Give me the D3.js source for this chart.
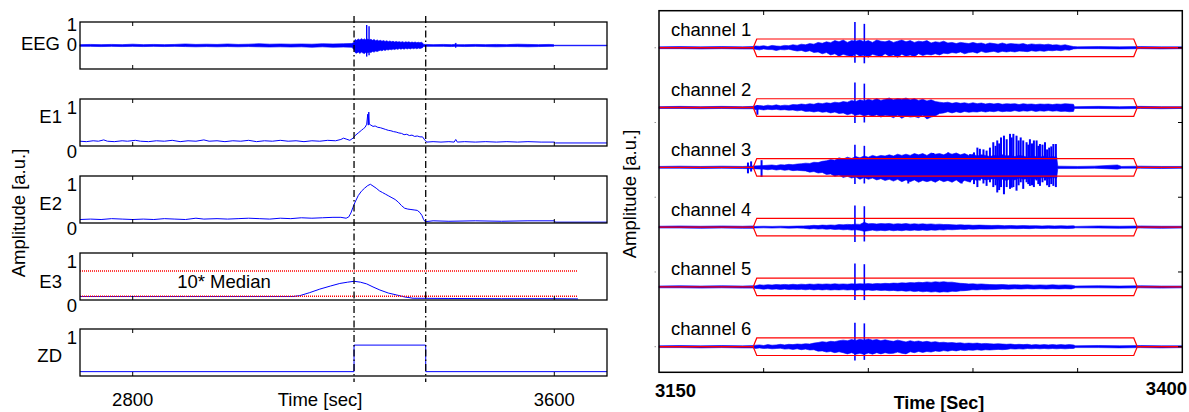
<!DOCTYPE html>
<html lang="en">
<head>
<meta charset="UTF-8">
<title>EEG energy features and seizure channels</title>
<style>
    body { margin: 0; background: #fff; overflow: hidden; }
    svg { display: block; }
    text { font-family: "Liberation Sans", Arial, sans-serif; fill: #000; }
</style>
</head>
<body>
<svg id="chart" width="1189" height="412"></svg>

<script src="https://d3js.org/d3.v7.min.js"></script>
<script>
// ---------- left figure data ----------
const leftTicks = [2800, 3600];
const events = [3220, 3356];            // dash-dot onset / offset
const panelNames = ["EEG", "E1", "E2", "E3", "ZD"];

// EEG envelope: [time, upper, lower]
const eegEnv = [
    [2700,.04,.04],[2720,.05,.04],[2740,.04,.05],[2760,.05,.04],[2780,.04,.05],[2800,.06,.04],
    [2820,.04,.05],[2840,.05,.04],[2860,.04,.05],[2880,.05,.04],[2900,.07,.05],[2920,.05,.06],
    [2940,.06,.05],[2960,.05,.06],[2980,.07,.05],[3000,.05,.06],[3020,.06,.05],[3040,.08,.06],
    [3060,.06,.07],[3080,.07,.06],[3100,.06,.07],[3120,.07,.06],[3140,.06,.08],[3160,.08,.06],
    [3180,.07,.08],[3200,.08,.07],[3216,.09,.08],
    [3220,.15,.2],[3222,.28,.33],[3225,.24,.36],[3228,.3,.3],[3231,.26,.37],[3234,.32,.31],
    [3237,.27,.35],[3240,.31,.38],[3243,.25,.3],[3246,.3,.34],[3249,.26,.3],[3252,.29,.33],
    [3255,.24,.28],[3258,.28,.31],[3261,.22,.26],[3264,.26,.28],[3267,.21,.25],[3270,.24,.22],
    [3273,.2,.25],[3276,.23,.2],[3279,.19,.23],[3282,.22,.19],[3285,.18,.21],[3288,.21,.17],
    [3291,.17,.2],[3294,.2,.16],[3297,.16,.19],[3300,.19,.15],[3303,.16,.18],[3306,.18,.14],
    [3309,.15,.17],[3312,.18,.14],[3315,.14,.17],[3318,.17,.13],[3321,.15,.16],[3324,.17,.13],
    [3327,.14,.16],[3330,.16,.12],[3333,.14,.15],[3336,.16,.12],[3339,.13,.15],[3342,.15,.12],
    [3345,.13,.14],[3348,.15,.12],[3350,.12,.1],[3352,.05,.05],
    [3356,.05,.04],[3370,.04,.04],[3390,.05,.04],[3405,.04,.05],[3411,.05,.04],[3413,.12,.1],
    [3415,.04,.04],[3430,.04,.05],[3450,.05,.04],[3470,.04,.05],[3490,.05,.06],[3510,.04,.05],
    [3530,.06,.05],[3550,.05,.06],[3570,.04,.05],[3590,.05,.04],[3599,.04,.04],[3600,.012,.012],
    [3700,.012,.012]
];
const eegSpikes = [[3244, .96, .52], [3248.5, .9, .46]];

const e1Line = [
    [2700,.23],[2712,.22],[2725,.24],[2735,.23],[2745,.26],[2752,.23],[2765,.22],[2780,.24],
    [2790,.23],[2805,.25],[2815,.23],[2830,.22],[2845,.24],[2860,.23],[2875,.25],[2890,.22],
    [2905,.24],[2920,.23],[2935,.26],[2945,.23],[2960,.24],[2975,.22],[2990,.24],[3005,.23],
    [3020,.25],[3035,.22],[3050,.24],[3065,.23],[3080,.25],[3095,.23],[3110,.24],[3125,.22],
    [3140,.24],[3155,.23],[3170,.25],[3185,.24],[3195,.27],[3200,.3],[3205,.28],[3212,.25],
    [3218,.3],[3222,.36],[3228,.42],[3234,.48],[3238,.52],[3241,.55],[3244,.62],[3246,.85],
    [3247,.6],[3248,.9],[3249,.62],[3252,.6],[3256,.57],[3260,.58],[3265,.55],[3270,.54],
    [3275,.52],[3280,.5],[3285,.48],[3290,.47],[3295,.45],[3300,.44],[3305,.42],[3310,.41],
    [3315,.38],[3320,.39],[3325,.36],[3330,.37],[3335,.34],[3340,.35],[3345,.33],[3350,.33],
    [3354,.26],[3358,.21],[3370,.22],[3385,.21],[3400,.22],[3410,.21],[3413,.27],[3416,.21],
    [3430,.22],[3450,.21],[3470,.22],[3490,.21],[3510,.22],[3530,.21],[3550,.22],[3575,.21],
    [3600,.21],[3602,.19],[3700,.19]
];

const e2Line = [
    [2700,.2],[2720,.21],[2740,.2],[2760,.22],[2780,.21],[2800,.2],[2820,.21],[2840,.2],
    [2860,.22],[2880,.21],[2900,.2],[2920,.23],[2935,.21],[2960,.22],[2980,.21],[3000,.22],
    [3020,.23],[3040,.22],[3060,.21],[3080,.23],[3100,.22],[3120,.24],[3140,.23],[3160,.24],
    [3180,.25],[3195,.25],[3205,.23],[3210,.26],[3214,.35],[3218,.48],[3222,.6],[3228,.75],
    [3234,.85],[3240,.92],[3246,.98],[3251,1.01],[3256,.97],[3262,.92],[3268,.86],[3274,.82],
    [3280,.78],[3286,.74],[3292,.7],[3298,.66],[3304,.6],[3310,.52],[3316,.46],[3322,.44],
    [3328,.43],[3334,.42],[3340,.41],[3345,.36],[3349,.29],[3352,.2],[3355,.15],[3370,.17],
    [3400,.16],[3450,.17],[3500,.16],[3550,.17],[3600,.17],[3602,.14],[3700,.14]
];

const e3Line = [
    [2700,.2],[2800,.2],[2900,.2],[3000,.2],[3080,.2],[3104,.2],[3117,.22],[3136,.29],
    [3155,.37],[3175,.44],[3193,.5],[3208,.53],[3220,.55],[3232,.53],[3244,.49],[3256,.42],
    [3269,.35],[3285,.28],[3301,.235],[3316,.19],[3332,.16],[3400,.155],[3500,.15],[3600,.15],
    [3645,.145]
];
const e3Threshold = 0.786;   // 10* Median
const e3Median = 0.205;
const e3Span = [2700, 3645];

const zdLine = [[2700,.22],[3220,.22],[3220,.83],[3356,.83],[3356,.22],[3700,.22]];

// ---------- right figure data ----------
const rightTicks = [3200, 3250, 3300, 3350];
const rightTickLabels = ["3150", "3400"];
const rightYTicks = [0, 1.25, 2.5, 3.75, 5];
const channelNames = ["channel 1", "channel 2", "channel 3", "channel 4", "channel 5", "channel 6"];
const channelOffsets = [5, 4, 3, 2, 1, 0];
const seizureWindow = [3195, 3378.5];
const spikeTimes = [3243.6, 3248.1];
const spikeUp = [[.43,.40],[.42,.40],[.38,.36],[.36,.35],[.39,.38],[.40,.39]];
const spikeDown = [[.25,.26],[.26,.25],[.28,.27],[.25,.24],[.22,.22],[.23,.22]];

const quietPre = [[3150,.015,.015],[3160,.02,.015],[3170,.015,.02],[3180,.02,.015],[3190,.015,.02],[3195,.02,.02]];
const quietPost = [[3360,.02,.015],[3370,.015,.02],[3380,.02,.015],[3390,.015,.02],[3400,.015,.015]];

const ch1Burst = [
    [3196,.03,.025],[3198,.025,.035],[3200,.035,.02],[3202,.02,.03],[3204,.04,.03],[3206,.03,.045],
    [3208,.025,.03],[3210,.04,.035],[3212,.035,.025],[3214,.05,.04],[3216,.04,.055],[3218,.06,.045],
    [3220,.05,.065],[3222,.07,.05],[3224,.06,.08],[3226,.09,.07],[3228,.075,.1],[3230,.1,.08],
    [3232,.085,.12],[3234,.12,.1],[3236,.1,.14],[3238,.13,.11],[3240,.09,.13],[3242,.12,.15],
    [3244,.11,.1],[3246,.13,.14],[3248,.1,.12],[3250,.12,.16],[3252,.09,.11],[3254,.13,.13],
    [3256,.11,.15],[3258,.1,.1],[3260,.12,.14],[3262,.09,.12],[3264,.11,.16],[3266,.13,.11],
    [3268,.1,.14],[3270,.12,.12],[3272,.09,.15],[3274,.11,.1],[3276,.1,.13],[3278,.12,.11],
    [3280,.08,.12],[3282,.1,.1],[3284,.09,.12],[3286,.11,.09],[3288,.08,.1],[3290,.09,.08],
    [3292,.07,.09],[3294,.09,.07],[3296,.08,.1],[3298,.07,.08],[3300,.09,.07],[3302,.07,.09],
    [3304,.08,.06],[3306,.06,.08],[3308,.08,.07],[3310,.07,.06],[3312,.06,.08],[3314,.08,.06],
    [3316,.06,.07],[3318,.07,.06],[3320,.065,.07],[3322,.06,.055],[3324,.07,.06],[3326,.05,.065],
    [3328,.065,.05],[3330,.055,.06],[3332,.06,.05],[3334,.05,.06],[3336,.06,.045],[3338,.045,.05],
    [3340,.05,.04],[3342,.04,.05],[3344,.05,.035],[3346,.035,.04],[3348,.02,.02],[3350,.015,.015]
];
const ch2Burst = [
    [3196,.03,.035],[3198,.035,.03],[3200,.025,.04],[3202,.04,.03],[3204,.03,.035],[3206,.045,.03],
    [3208,.03,.04],[3210,.04,.035],[3212,.035,.045],[3214,.05,.04],[3216,.045,.055],[3218,.06,.045],
    [3220,.05,.065],[3222,.065,.06],[3224,.055,.075],[3226,.075,.06],[3228,.065,.08],[3230,.08,.07],
    [3232,.07,.09],[3234,.09,.075],[3236,.08,.1],[3238,.1,.09],[3240,.09,.12],[3242,.12,.1],
    [3244,.1,.13],[3246,.13,.11],[3248,.11,.14],[3250,.14,.12],[3252,.12,.15],[3254,.15,.12],
    [3256,.12,.16],[3258,.14,.13],[3260,.16,.14],[3262,.13,.17],[3264,.15,.13],[3266,.14,.18],
    [3268,.16,.14],[3270,.13,.16],[3272,.15,.15],[3274,.12,.17],[3276,.14,.13],[3278,.11,.19],
    [3280,.13,.16],[3282,.1,.14],[3284,.09,.1],[3286,.08,.09],[3288,.09,.07],[3290,.07,.09],
    [3292,.085,.07],[3294,.07,.085],[3296,.08,.065],[3298,.065,.08],[3300,.08,.07],[3302,.065,.075],
    [3304,.075,.06],[3306,.06,.075],[3308,.07,.06],[3310,.06,.07],[3312,.07,.055],[3314,.055,.07],
    [3316,.065,.06],[3318,.06,.065],[3320,.065,.05],[3322,.05,.065],[3324,.065,.055],[3326,.055,.06],
    [3328,.06,.05],[3330,.05,.065],[3332,.06,.055],[3334,.055,.06],[3336,.06,.05],[3338,.05,.06],
    [3340,.06,.055],[3342,.055,.065],[3344,.065,.06],[3346,.06,.07],[3348,.055,.065],[3348.5,.015,.015]
];
const ch3Burst = [
    [3200,.03,.03],[3202,.035,.04],[3204,.04,.03],[3206,.03,.045],[3208,.045,.035],[3210,.04,.05],
    [3212,.05,.04],[3214,.045,.055],[3216,.055,.05],[3218,.06,.055],[3220,.07,.06],[3222,.065,.08],
    [3224,.085,.07],[3226,.08,.095],[3228,.1,.085],[3230,.11,.12],[3232,.13,.11],[3234,.12,.15],
    [3236,.16,.13],[3238,.14,.17],[3240,.17,.15],[3242,.15,.18],[3244,.18,.16],[3246,.16,.2],
    [3248,.19,.17],[3250,.17,.2],[3252,.2,.18],[3254,.18,.21],[3256,.2,.19],[3258,.19,.22],
    [3260,.21,.2],[3262,.19,.23],[3264,.22,.2],[3266,.2,.24],[3268,.22,.21],[3270,.2,.24],
    [3272,.23,.21],[3274,.21,.25],[3276,.23,.22],[3278,.2,.24],[3280,.24,.22],[3282,.22,.25],
    [3284,.23,.21],[3286,.21,.24],[3288,.24,.22],[3290,.22,.25],[3292,.24,.21],[3294,.21,.26],
    [3296,.23,.22],[3298,.2,.24],[3300,.22,.2],[3302,.19,.22],[3304,.21,.19],[3306,.2,.21],
    [3308,.18,.2],[3310,.2,.19],[3312,.19,.21],[3314,.21,.2],[3316,.19,.22],[3318,.2,.19],
    [3320,.18,.21],[3322,.2,.18],[3324,.19,.2],[3326,.17,.19],[3328,.19,.18],[3330,.18,.2],
    [3332,.17,.18],[3334,.19,.17],[3336,.17,.19],[3338,.18,.17],[3340,.17,.18],[3340.5,.02,.02],
    [3350,.015,.02],[3358,.02,.015],[3369,.04,.03],[3371,.015,.015]
];
const ch3Strokes = [
    [3192.5,.08,.1],[3194,.1,.07],[3199,.12,.16],
    [3269.1,.18,.27],[3281,.24,.2],[3288.2,.25,.22],[3294.6,.2,.27],
    [3298.6,.22,.25],[3300.5,.25,.28],[3302.1,.33,.33],[3303.3,.31,.22],[3305,.3,.27],
    [3306.5,.28,.31],[3308.1,.33,.25],[3309.7,.42,.33],[3310.8,.36,.3],[3311.6,.45,.42],
    [3312.5,.4,.38],[3313.4,.5,.33],[3314.8,.53,.45],[3316.1,.47,.33],[3317.7,.56,.36],
    [3318.5,.5,.34],[3319.3,.56,.33],[3320.8,.53,.39],[3321.8,.45,.3],[3322.8,.5,.25],
    [3324,.45,.36],[3325.6,.42,.25],[3326.4,.38,.28],[3327.2,.47,.31],[3328.2,.4,.3],
    [3329.1,.45,.33],[3330.4,.45,.22],[3331.2,.36,.28],[3332,.39,.31],[3333.2,.38,.25],
    [3334.4,.42,.22],[3335.4,.3,.3],[3336.4,.33,.33],[3337.4,.35,.28],[3338.4,.39,.31],
    [3339.6,.39,.33]
];
const ch2Strokes = [[3197, .04, .12]];
const ch4Burst = [
    [3196,.012,.015],[3200,.015,.012],[3204,.012,.016],[3208,.016,.012],[3212,.013,.017],[3216,.018,.014],
    [3219,.02,.018],[3222,.025,.03],[3224,.03,.024],[3226,.026,.032],[3228,.034,.028],[3230,.03,.036],
    [3232,.036,.03],[3234,.032,.04],[3236,.042,.035],[3238,.038,.045],[3240,.046,.04],[3242,.042,.05],
    [3244,.05,.044],[3246,.046,.052],[3248,.08,.07],[3250,.055,.06],[3252,.06,.05],[3254,.052,.062],
    [3256,.06,.054],[3258,.055,.06],[3260,.062,.05],[3262,.05,.06],[3264,.058,.052],[3266,.052,.06],
    [3268,.06,.05],[3270,.05,.058],[3272,.056,.05],[3274,.05,.056],[3276,.055,.048],[3278,.048,.055],
    [3280,.054,.046],[3282,.046,.052],[3284,.05,.044],[3286,.044,.05],[3288,.045,.04],[3290,.04,.044],
    [3292,.036,.04],[3294,.04,.034],[3296,.034,.038],[3298,.036,.032],[3300,.03,.035],[3303,.034,.03],
    [3306,.03,.033],[3309,.028,.031],[3312,.03,.026],[3315,.025,.029],[3318,.028,.024],[3321,.022,.026],
    [3324,.026,.022],[3327,.022,.025],[3330,.024,.02],[3333,.02,.024],[3336,.024,.02],[3339,.02,.023],
    [3342,.023,.02],[3345,.02,.024],[3348,.022,.02],[3349,.012,.012]
];
const ch5Burst = [
    [3196,.02,.025],[3198,.035,.03],[3200,.03,.038],[3202,.038,.03],[3204,.032,.04],[3206,.04,.034],
    [3208,.035,.042],[3210,.042,.036],[3212,.036,.044],[3214,.044,.038],[3216,.038,.045],[3218,.046,.04],
    [3220,.04,.048],[3222,.048,.04],[3224,.042,.05],[3226,.05,.042],[3228,.044,.05],[3230,.05,.044],
    [3232,.045,.052],[3234,.052,.046],[3236,.046,.05],[3238,.05,.045],[3240,.045,.052],[3242,.052,.046],
    [3244,.048,.054],[3246,.054,.048],[3248,.05,.056],[3250,.056,.05],[3252,.05,.058],[3254,.058,.052],
    [3256,.054,.06],[3258,.06,.055],[3260,.056,.064],[3262,.064,.058],[3264,.06,.068],[3266,.068,.062],
    [3268,.064,.072],[3270,.072,.066],[3272,.068,.078],[3274,.078,.07],[3276,.072,.082],[3278,.084,.074],
    [3280,.076,.086],[3282,.086,.078],[3284,.08,.088],[3286,.088,.08],[3288,.078,.086],[3290,.08,.072],
    [3292,.068,.076],[3294,.06,.066],[3296,.056,.062],[3298,.05,.056],[3300,.052,.046],[3302,.046,.05],
    [3304,.05,.044],[3306,.044,.048],[3308,.04,.045],[3311,.038,.042],[3314,.04,.035],[3317,.034,.038],
    [3320,.036,.032],[3323,.032,.036],[3326,.035,.03],[3329,.03,.034],[3332,.034,.03],[3335,.03,.035],
    [3338,.035,.03],[3341,.03,.034],[3344,.034,.03],[3347,.03,.033],[3349,.015,.015]
];
const ch6Burst = [
    [3196,.025,.03],[3198,.03,.02],[3200,.02,.03],[3202,.035,.025],[3204,.025,.035],[3206,.03,.03],
    [3208,.04,.025],[3210,.03,.04],[3212,.04,.035],[3214,.035,.045],[3216,.045,.035],[3218,.04,.05],
    [3220,.05,.04],[3222,.045,.055],[3224,.06,.05],[3226,.07,.075],[3228,.085,.07],[3230,.075,.09],
    [3232,.09,.08],[3234,.085,.1],[3236,.1,.085],[3238,.11,.1],[3240,.1,.12],[3242,.12,.1],
    [3244,.105,.125],[3246,.125,.11],[3248,.11,.13],[3250,.13,.105],[3252,.11,.125],[3254,.12,.1],
    [3256,.1,.12],[3258,.115,.1],[3260,.1,.115],[3262,.09,.11],[3264,.11,.09],[3266,.095,.11],
    [3268,.08,.12],[3270,.1,.085],[3272,.085,.1],[3274,.095,.08],[3276,.08,.095],[3278,.09,.08],
    [3280,.075,.09],[3282,.085,.07],[3284,.07,.08],[3286,.075,.065],[3288,.065,.075],[3290,.07,.06],
    [3292,.06,.07],[3294,.065,.055],[3296,.055,.065],[3298,.06,.055],[3300,.055,.06],[3302,.06,.05],
    [3304,.05,.06],[3306,.055,.05],[3308,.05,.055],[3310,.045,.05],[3312,.05,.045],[3314,.045,.05],
    [3316,.04,.045],[3318,.045,.035],[3320,.035,.04],[3322,.04,.035],[3324,.035,.04],[3326,.04,.03],
    [3328,.03,.035],[3330,.035,.03],[3332,.03,.035],[3334,.035,.03],[3336,.03,.035],[3338,.035,.03],
    [3340,.03,.035],[3342,.035,.03],[3344,.03,.035],[3346,.035,.03],[3348,.03,.03],[3349,.015,.015]
];
const channelEnvs = [
    quietPre.concat(ch1Burst, quietPost),
    quietPre.concat(ch2Burst, quietPost),
    quietPre.slice(0, 5).concat(ch3Burst, quietPost.slice(2)),
    quietPre.concat(ch4Burst, quietPost),
    quietPre.concat(ch5Burst, quietPost),
    quietPre.concat(ch6Burst, quietPost)
];
const channelStrokes = [[], ch2Strokes, ch3Strokes, [], [], []];

// ---------- drawing ----------
const svg = d3.select("#chart");
const BLUE = "#0000ff", RED = "#ff0000";
const FS = 18.5;

// ===== left figure =====
const x = d3.scaleLinear().domain([2700, 3700]).range([80, 607]);
const panelTops = [22, 99, 176, 253, 329];
const panelH = 47;
const nameBaselines = [50, 123, 210, 288, 362];

const ys = panelTops.map((top, i) => d3.scaleLinear()
    .domain(i === 0 ? [-1.1, 1.1] : [0.12, 1.2])
    .range([top + panelH, top]));

const line = y => d3.line().x(d => x(d[0])).y(d => y(d[1]));
const band = (xs, y, base) => d3.area()
    .x(d => xs(d[0]))
    .y0(d => y(base - d[2]))
    .y1(d => y(base + d[1]));

panelTops.forEach((top, i) => {
    const g = svg.append("g");
    const y = ys[i];

    if (i === 0) {
        g.append("path").datum(eegEnv)
            .attr("d", band(x, y, 0))
            .attr("fill", BLUE).attr("stroke", BLUE).attr("stroke-width", 0.7);
        g.selectAll(".sp").data(eegSpikes).join("line")
            .attr("x1", d => x(d[0])).attr("x2", d => x(d[0]))
            .attr("y1", d => y(d[1])).attr("y2", d => y(-d[2]))
            .attr("stroke", BLUE).attr("stroke-width", 1.4);
    }
    if (i === 1) g.append("path").attr("d", line(y)(e1Line))
        .attr("fill", "none").attr("stroke", BLUE).attr("stroke-width", 1);
    if (i === 2) g.append("path").attr("d", line(y)(e2Line))
        .attr("fill", "none").attr("stroke", BLUE).attr("stroke-width", 1);
    if (i === 3) {
        g.append("path").attr("d", line(y)(e3Line))
            .attr("fill", "none").attr("stroke", BLUE).attr("stroke-width", 1);
        [e3Threshold, e3Median].forEach(v => {
            g.append("line")
                .attr("x1", x(e3Span[0])).attr("x2", x(e3Span[1]))
                .attr("y1", y(v)).attr("y2", y(v))
                .attr("stroke", RED).attr("stroke-width", 1.4)
                .attr("stroke-dasharray", "1,1");
        });
        g.append("text")
            .attr("x", 224).attr("y", y(e3Threshold) + 17)
            .attr("text-anchor", "middle").attr("font-size", FS)
            .text("10* Median");
    }
    if (i === 4) g.append("path").attr("d", line(y)(zdLine))
        .attr("fill", "none").attr("stroke", BLUE).attr("stroke-width", 1);

    // box
    g.append("rect")
        .attr("x", 80).attr("y", top).attr("width", 527).attr("height", panelH)
        .attr("fill", "none").attr("stroke", "#000").attr("stroke-width", 1.3);

    // inward x ticks top and bottom
    leftTicks.forEach(t => {
        g.append("line").attr("x1", x(t)).attr("x2", x(t))
            .attr("y1", top).attr("y2", top + 4).attr("stroke", "#000");
        g.append("line").attr("x1", x(t)).attr("x2", x(t))
            .attr("y1", top + panelH).attr("y2", top + panelH - 4).attr("stroke", "#000");
    });

    // y labels "1" / "0"
    g.append("text").attr("x", 77).attr("y", y(1) + 6.5)
        .attr("text-anchor", "end").attr("font-size", FS).text("1");
    if (i < 4) g.append("text").attr("x", 77).attr("y", y(0) + (i === 0 ? 5 : 6.5))
        .attr("text-anchor", "end").attr("font-size", FS).text("0");

    g.append("text").attr("x", i === 0 ? 60 : 62).attr("y", nameBaselines[i])
        .attr("text-anchor", "end").attr("font-size", FS).text(panelNames[i]);
});

// dash-dot event markers
svg.selectAll(".ev").data(events).join("line")
    .attr("x1", d => x(d)).attr("x2", d => x(d))
    .attr("y1", 16).attr("y2", 382)
    .attr("stroke", "#000").attr("stroke-width", 1.3)
    .attr("stroke-dasharray", "7,3,1.5,3");

// x tick labels and axis label
leftTicks.forEach(t => {
    svg.append("text").attr("x", x(t)).attr("y", 406)
        .attr("text-anchor", "middle").attr("font-size", FS).text(String(t));
});
svg.append("text").attr("x", 320).attr("y", 406)
    .attr("text-anchor", "middle").attr("font-size", FS).text("Time [sec]");
svg.append("text")
    .attr("transform", "translate(25,213) rotate(-90)")
    .attr("text-anchor", "middle").attr("font-size", FS).text("Amplitude [a.u.]");

// ===== right figure =====
const xR = d3.scaleLinear().domain([3150, 3400]).range([659, 1182.3]);
const yR = d3.scaleLinear().domain([-0.428, 5.62]).range([372.3, 10.7]);
const gR = svg.append("g");
const hexHalf = 0.147, hexInset = 1.7;

channelEnvs.forEach((env, k) => {
    const base = channelOffsets[k];
    gR.append("path").datum(env)
        .attr("d", band(xR, yR, base))
        .attr("fill", BLUE).attr("stroke", BLUE).attr("stroke-width", 0.6);

    channelStrokes[k].forEach(d => {
        gR.append("line")
            .attr("x1", xR(d[0])).attr("x2", xR(d[0]))
            .attr("y1", yR(base + d[1])).attr("y2", yR(base - d[2]))
            .attr("stroke", BLUE).attr("stroke-width", 2);
    });
    spikeTimes.forEach((t, j) => {
        gR.append("line")
            .attr("x1", xR(t)).attr("x2", xR(t))
            .attr("y1", yR(base + spikeUp[k][j])).attr("y2", yR(base - spikeDown[k][j]))
            .attr("stroke", BLUE).attr("stroke-width", 1.6);
    });

    // red baseline outside the window + window outline
    const [s, e] = seizureWindow;
    gR.append("line").attr("x1", xR(3150)).attr("x2", xR(s))
        .attr("y1", yR(base)).attr("y2", yR(base))
        .attr("stroke", RED).attr("stroke-width", 1.4);
    gR.append("line").attr("x1", xR(e)).attr("x2", xR(3400))
        .attr("y1", yR(base)).attr("y2", yR(base))
        .attr("stroke", RED).attr("stroke-width", 1.4);
    const hex = [
        [s, base], [s + hexInset, base + hexHalf], [e - hexInset, base + hexHalf],
        [e, base], [e - hexInset, base - hexHalf], [s + hexInset, base - hexHalf]
    ];
    gR.append("polygon")
        .attr("points", hex.map(p => [xR(p[0]), yR(p[1])].join(",")).join(" "))
        .attr("fill", "none").attr("stroke", RED).attr("stroke-width", 1.2);

    gR.append("text").attr("x", 671).attr("y", yR(base) - 11.5)
        .attr("font-size", FS).text(channelNames[k]);
});

// axes box
gR.append("rect")
    .attr("x", 659).attr("y", 10.7).attr("width", 523.3).attr("height", 361.6)
    .attr("fill", "none").attr("stroke", "#000").attr("stroke-width", 1.5);

rightTicks.forEach(t => {
    gR.append("line").attr("x1", xR(t)).attr("x2", xR(t))
        .attr("y1", 10.7).attr("y2", 15).attr("stroke", "#000");
    gR.append("line").attr("x1", xR(t)).attr("x2", xR(t))
        .attr("y1", 372.3).attr("y2", 368).attr("stroke", "#000");
});
rightYTicks.forEach(v => {
    gR.append("line").attr("x1", 1182.3).attr("x2", 1178)
        .attr("y1", yR(v)).attr("y2", yR(v)).attr("stroke", "#000");
    gR.append("line").attr("x1", 654.5).attr("x2", 656)
        .attr("y1", yR(v)).attr("y2", yR(v)).attr("stroke", "#999");
});

gR.append("text").attr("x", 655).attr("y", 397)
    .attr("font-size", FS).attr("font-weight", "bold").text(rightTickLabels[0]);
gR.append("text").attr("x", 1187).attr("y", 395).attr("text-anchor", "end")
    .attr("font-size", FS).attr("font-weight", "bold").text(rightTickLabels[1]);
gR.append("text").attr("x", 939).attr("y", 409).attr("text-anchor", "middle")
    .attr("font-size", 18).attr("font-weight", "bold").text("Time [Sec]");
gR.append("text")
    .attr("transform", "translate(636,194) rotate(-90)")
    .attr("text-anchor", "middle").attr("font-size", FS).text("Amplitude [a.u.]");
</script>
</body>
</html>
